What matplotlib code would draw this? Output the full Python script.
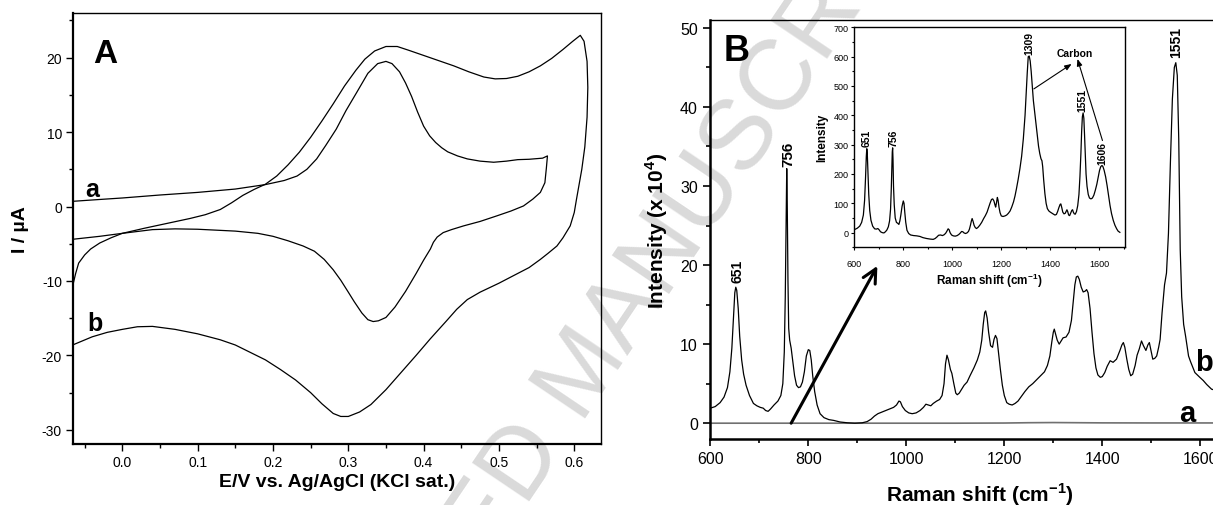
import matplotlib
matplotlib.use("Agg")
import matplotlib.pyplot as plt
from matplotlib.ticker import MultipleLocator

plt.rcParams['font.family'] = ['Liberation Sans', 'DejaVu Sans']
plt.rcParams['mathtext.fontset'] = 'custom'
plt.rcParams['mathtext.rm'] = 'Liberation Sans'
plt.rcParams['mathtext.bf'] = 'Liberation Sans:bold'
plt.rcParams['axes.unicode_minus'] = False

# ---------------- Panel A: cyclic voltammograms ----------------
cv_a_E = [-0.066, -0.03, 0.0, 0.05, 0.1, 0.15, 0.19, 0.215, 0.232, 0.245, 0.258, 0.27, 0.284,
          0.297, 0.311, 0.326, 0.339, 0.35, 0.358, 0.368, 0.376, 0.384, 0.392, 0.4, 0.408, 0.416,
          0.424, 0.432, 0.445, 0.458, 0.475, 0.493, 0.51, 0.525, 0.54, 0.558, 0.5644,
          0.563, 0.561, 0.555, 0.545, 0.5326, 0.516, 0.497, 0.475, 0.453, 0.437, 0.426, 0.418,
          0.413, 0.409, 0.4, 0.39, 0.376, 0.362, 0.35, 0.34, 0.333, 0.326, 0.318, 0.308, 0.3,
          0.29, 0.28, 0.268, 0.255, 0.24, 0.22, 0.2, 0.18, 0.15, 0.1, 0.07, 0.04, 0.0, -0.03, -0.066]
cv_a_I = [0.7, 0.95, 1.15, 1.55, 1.9, 2.35, 2.95, 3.5, 4.1, 5.0, 6.4, 8.2, 10.4,
          12.9, 15.3, 17.9, 19.2, 19.5, 19.2, 18.1, 16.6, 14.8, 12.7, 10.8, 9.5, 8.6,
          7.9, 7.35, 6.8, 6.4, 6.1, 5.95, 6.1, 6.3, 6.35, 6.5, 6.8,
          5.2, 3.2, 1.9, 1.0, 0.08, -0.6, -1.26, -2.0, -2.6, -3.1, -3.5, -4.1,
          -4.8, -5.7, -7.2, -9.0, -11.4, -13.5, -14.9, -15.35, -15.45, -15.2, -14.3, -12.8, -11.5,
          -9.9, -8.5, -7.1, -6.0, -5.3, -4.6, -4.0, -3.6, -3.3, -3.05, -3.0, -3.1, -3.6, -4.0, -4.4]

cv_b_E = [-0.066, -0.062, -0.058, -0.05, -0.042, -0.03, -0.015, 0.0, 0.03, 0.06, 0.09, 0.11,
          0.13, 0.145, 0.16, 0.175, 0.19, 0.205, 0.22, 0.235, 0.25, 0.265, 0.28, 0.295, 0.31,
          0.322, 0.335, 0.35, 0.365, 0.38, 0.4, 0.42, 0.44, 0.46, 0.48, 0.495, 0.51, 0.525,
          0.54, 0.555, 0.57, 0.585, 0.598, 0.608,
          0.613, 0.617, 0.618, 0.617, 0.614, 0.61, 0.603, 0.6, 0.5946, 0.585, 0.577, 0.565,
          0.555, 0.54, 0.519, 0.5, 0.475, 0.458, 0.444, 0.43, 0.4086, 0.39, 0.37, 0.35, 0.33,
          0.315, 0.3, 0.29, 0.28, 0.265, 0.25, 0.23, 0.21, 0.19, 0.17, 0.15, 0.13, 0.1, 0.07,
          0.04, 0.02, 0.0, -0.02, -0.04, -0.066]
cv_b_I = [-10.7, -9.0, -7.6, -6.5, -5.7, -4.9, -4.2, -3.6, -2.9, -2.25, -1.6, -1.1,
          -0.4, 0.5, 1.5, 2.3, 3.0, 4.1, 5.6, 7.3, 9.3, 11.5, 13.8, 16.2, 18.3,
          19.8, 20.9, 21.5, 21.5, 21.0, 20.3, 19.6, 18.9, 18.1, 17.4, 17.15, 17.2, 17.5,
          18.1, 18.9, 19.9, 21.1, 22.2, 23.0,
          22.2, 19.5, 16.0, 12.0, 8.0, 5.0, 1.0, -0.8, -2.6, -4.2, -5.3, -6.3,
          -7.1, -8.2, -9.3, -10.3, -11.5, -12.5, -13.8, -15.4, -17.8, -20.0, -22.3, -24.6, -26.6,
          -27.6, -28.2, -28.2, -27.8, -26.5, -25.0, -23.3, -21.9, -20.6, -19.6, -18.6, -17.9, -17.1, -16.5,
          -16.1, -16.15, -16.5, -16.9, -17.5, -18.6]

# ---------------- Panel B: Raman spectra ----------------
raman_b_x = [600, 610, 620, 628, 635, 640, 644, 647, 650, 652, 654, 657, 660, 664, 668, 673, 680, 688,
             695, 702, 708, 713, 718, 723, 730, 738, 744, 748, 751, 753, 755, 756, 757, 758.5, 760,
             762, 765, 768, 772, 776, 780, 784, 788, 792, 796, 800, 803, 806, 809, 813, 818, 824,
             832, 842, 852, 865, 880, 895, 910, 920, 928, 935, 942, 950, 958, 966, 974, 980, 985,
             988, 992, 998, 1005, 1012, 1020, 1028, 1035, 1040, 1045, 1050, 1055, 1062, 1068, 1073,
             1077, 1080, 1083, 1086, 1090, 1093, 1097, 1101, 1104, 1108, 1113, 1118, 1124, 1130,
             1138, 1145, 1150, 1154, 1157, 1160, 1162, 1165, 1168, 1172, 1176, 1179, 1182, 1185,
             1188, 1192, 1196, 1200, 1205, 1210, 1216, 1222, 1228, 1235, 1242, 1250, 1258, 1266,
             1274, 1282, 1288, 1293, 1297, 1300, 1302, 1305, 1308, 1312, 1316, 1320, 1326, 1332,
             1337, 1341, 1344, 1347, 1350, 1353, 1357, 1361, 1365, 1368, 1371, 1375, 1379, 1383,
             1387, 1391, 1396, 1400, 1405, 1410, 1416, 1422, 1429, 1436, 1440, 1443, 1446, 1450,
             1454, 1458, 1462, 1467, 1471, 1475.5, 1480, 1484, 1489, 1493, 1496, 1500, 1503, 1507,
             1511, 1515, 1518, 1522, 1527, 1531, 1535, 1539, 1543, 1547, 1550, 1553, 1556, 1559,
             1562, 1566, 1570, 1576, 1580, 1589, 1599, 1606, 1613, 1623, 1635, 1650]
raman_b_y = [1.9, 2.1, 2.6, 3.3, 4.5, 6.5, 9.5, 13, 16.5, 17.2, 16.8, 14.5, 11, 8, 6.2, 4.8, 3.5, 2.5,
             2.2, 2.0, 1.9, 1.6, 1.5, 1.8, 2.3, 2.8, 3.5, 5.0, 9, 16, 27, 32.2, 28, 18, 12,
             10.5, 9.5, 8, 6, 4.8, 4.5, 4.6, 5.2, 6.5, 8.5, 9.3, 9.2, 8, 6, 4, 2.3, 1.2,
             0.7, 0.45, 0.35, 0.15, 0.05, 0.0, 0.05, 0.2, 0.5, 0.9, 1.2, 1.4, 1.6, 1.8, 2.0, 2.3, 2.8,
             2.7, 2.1, 1.6, 1.3, 1.2, 1.3, 1.6, 2.0, 2.4, 2.3, 2.2, 2.5, 2.8, 3.0, 3.5,
             5, 7.5, 8.6, 8, 6.8, 6.3, 5, 3.8, 3.6, 3.8, 4.3, 4.8, 5.2, 6,
             7, 8, 9, 10.5, 12.5, 14, 14.2, 13.3, 11.5, 9.8, 9.6, 10.6, 11.1, 10.7,
             9, 6.8, 4.8, 3.5, 2.6, 2.4, 2.3, 2.5, 2.8, 3.4, 4.0, 4.6, 5.0, 5.5,
             6.0, 6.5, 7.3, 8.5, 10.3, 11.5, 11.9, 11.2, 10.5, 10.0, 10.4, 10.8, 10.9, 11.5,
             13, 15.5, 17.5, 18.5, 18.6, 18.2, 17.2, 16.6, 16.7, 16.9, 16.5, 14.5, 11.5, 8.8,
             7, 6.1, 5.8, 5.9, 6.4, 7.2, 7.9, 7.7, 8.1, 9.2, 9.9, 10.2, 9.6, 8.1,
             6.8, 6.0, 6.2, 7.3, 8.6, 9.4, 10.4, 9.8, 9.2, 9.9, 10.2, 9.0, 8.1, 8.2,
             8.5, 9.6, 10.6, 14.0, 17.5, 19.0, 24, 33, 41, 45, 45.6, 44, 36, 22,
             16, 12.5, 11.0, 8.5, 7.8, 6.4, 5.8, 5.4, 4.9, 4.3, 4.1, 4.0]

raman_a_x = [600, 700, 800, 900, 1000, 1100, 1200, 1250, 1300, 1350, 1400, 1500, 1600, 1700]
raman_a_y = [0.0, 0.0, 0.0, 0.0, 0.0, 0.0, 0.02, 0.06, 0.08, 0.06, 0.04, 0.03, 0.03, 0.03]

# Inset spectrum (carbon-containing sample)
inset_x = [600, 612, 622, 630, 637, 642, 646, 649, 651, 653, 656, 659, 663, 668, 675, 683, 690, 696,
           701, 707, 714, 721, 727, 733, 739, 744, 748, 751, 753, 755, 756.5, 758, 760, 763, 767,
           772, 777, 782, 786, 790, 795, 800, 803, 806, 810, 815, 822, 830, 842, 855, 868, 880,
           895, 910, 922, 930, 937, 944, 952, 960, 967, 973, 978, 983, 987, 991, 997, 1004, 1012,
           1020, 1027, 1033, 1038, 1043, 1048, 1054, 1060, 1066, 1070, 1074, 1078, 1081, 1085,
           1089, 1094, 1099, 1105, 1112, 1120, 1128, 1135, 1142, 1148, 1154, 1160, 1165, 1170,
           1174, 1177, 1180, 1184, 1187, 1191, 1195, 1200, 1207, 1215, 1222, 1229, 1236, 1243,
           1250, 1256, 1262, 1269, 1276, 1283, 1290, 1297, 1302, 1306, 1310, 1314, 1318, 1322,
           1326, 1331, 1337, 1342, 1347, 1352, 1357, 1362, 1366, 1369, 1373, 1378, 1383, 1388,
           1394, 1400, 1407, 1413, 1419, 1425, 1430, 1435, 1440, 1443, 1447, 1451, 1456, 1461,
           1465, 1468, 1471, 1475, 1479, 1484, 1488, 1491, 1494, 1498, 1502, 1507, 1512, 1517,
           1521, 1525, 1528, 1531, 1534, 1537, 1540, 1543, 1546, 1550, 1555, 1560, 1566, 1572,
           1578, 1584, 1590, 1596, 1601, 1606, 1611, 1615, 1620, 1626, 1632, 1638, 1644, 1650,
           1657, 1664, 1671, 1677, 1684]
inset_y = [10, 15, 22, 35, 60, 110, 190, 260, 286, 270, 200, 130, 75, 42, 22, 13, 12, 14,
           10, 3, 0, -1, 3, 9, 20, 40, 80, 150, 220, 275, 289, 250, 160, 95, 50,
           35, 32, 28, 40, 60, 90, 108, 100, 70, 35, 8, -3, -8, -10, -11, -13, -17,
           -20, -22, -23, -20, -15, -9, -8, -10, -7, -2, 5, 13, 10, 0, -8, -11, -12,
           -10, -6, -1, 4, 3, -1, -3, -1, 4, 12, 25, 40, 48, 38,
           25, 17, 14, 18, 25, 35, 48, 58, 70, 85, 100, 113, 115, 108,
           95, 87, 100, 120, 110, 85, 68, 57, 55, 57, 60, 66, 74, 88,
           105, 125, 150, 182, 218, 260, 320, 400, 480, 545, 600, 602, 585, 550,
           505, 450, 405, 370, 330, 295, 270, 252, 245, 225, 180, 133, 100, 82,
           74, 70, 66, 63, 60, 62, 72, 85, 96, 98, 85, 70, 64, 66,
           73, 78, 72, 60, 58, 68, 76, 78, 70, 64, 63, 72, 92, 130,
           190, 270, 345, 395, 408, 390, 330, 260, 200, 158, 130, 118, 115, 118,
           128, 145, 165, 190, 212, 225, 229, 225, 212, 190, 160, 125, 92, 65,
           42, 25, 13, 5, 1]

# Peak annotations
main_peaks = ['651', '756', '1551']
main_peak_x = [655, 758.5, 1550]
main_peak_y = [17.8, 32.5, 46.3]
main_peak_fs = [10, 11, 10]

inset_peaks = ['651', '756', '1309', '1551', '1606']
inset_peak_x = [651, 760, 1313, 1533, 1613]
inset_peak_y = [294, 294, 609, 416, 235]

# ---------------- Figure ----------------
W, H = 1213, 506
fig = plt.figure(figsize=(W / 100, H / 100), dpi=100)

def px_axes(l, t, r, b):
    return [l / W, 1 - b / H, (r - l) / W, (b - t) / H]

# watermark
fig.text(0.482, 0.262, 'ACCEPTED MANUSCRIPT', rotation=56, fontsize=72,
         color='#dadada', ha='center', va='center', zorder=-1)

# ---- Panel A ----
axA = fig.add_axes(px_axes(73, 14, 601, 445))
axA.set_facecolor('none')
axA.plot(cv_a_E, cv_a_I, color='black', lw=0.9)
axA.plot(cv_b_E, cv_b_I, color='black', lw=0.9)
axA.set_xlim(-0.0655, 0.6355)
axA.set_ylim(-31.9, 26.0)
axA.xaxis.set_major_locator(MultipleLocator(0.1))
axA.xaxis.set_minor_locator(MultipleLocator(0.05))
axA.yaxis.set_major_locator(MultipleLocator(10))
axA.yaxis.set_minor_locator(MultipleLocator(5))
axA.xaxis.set_major_formatter(matplotlib.ticker.FormatStrFormatter('%.1f'))
axA.tick_params(which='major', direction='out', length=5, width=1.0, labelsize=10, pad=3)
axA.tick_params(which='minor', direction='out', length=3, width=1.0)
axA.tick_params(top=False, right=False, which='both')
for s in axA.spines.values():
    s.set_linewidth(1.0)
axA.spines['bottom'].set_linewidth(1.6)
axA.spines['left'].set_linewidth(1.6)
axA.set_xlabel('E/V vs. Ag/AgCl (KCl sat.)', fontsize=14, fontweight='bold', labelpad=3)
axA.set_ylabel('I / µA', fontsize=14, fontweight='bold', labelpad=9)
axA.text(-0.023, 20.6, 'A', fontsize=24, fontweight='bold', ha='center', va='center')
axA.text(-0.040, 2.4, 'a', fontsize=18, fontweight='bold', ha='center', va='center')
axA.text(-0.036, -15.7, 'b', fontsize=18, fontweight='bold', ha='center', va='center')

# ---- Panel B ----
x_right_px = 710.3 + (1700 - 600) * 0.49
axB = fig.add_axes(px_axes(710.3, 21, x_right_px, 440))
axB.set_facecolor('none')
axB.plot(raman_a_x, raman_a_y, color='#707070', lw=1.2)
axB.plot(raman_b_x, raman_b_y, color='black', lw=0.9)
axB.set_xlim(600, 1700)
axB.set_ylim(-2, 51)
axB.xaxis.set_major_locator(MultipleLocator(200))
axB.xaxis.set_minor_locator(MultipleLocator(100))
axB.yaxis.set_major_locator(MultipleLocator(10))
axB.yaxis.set_minor_locator(MultipleLocator(5))
axB.tick_params(which='major', direction='out', length=5, width=1.2, labelsize=11.5, pad=4)
axB.tick_params(which='minor', direction='out', length=3, width=1.2)
axB.tick_params(top=False, right=False, which='both')
for s in axB.spines.values():
    s.set_linewidth(1.0)
axB.spines['bottom'].set_linewidth(1.8)
axB.spines['left'].set_linewidth(1.8)
axB.set_xlabel(r'Raman shift (cm$^{\mathbf{-1}}$)', fontsize=15, fontweight='bold', labelpad=10)
axB.set_ylabel(r'Intensity (x 10$^{\mathbf{4}}$)', fontsize=15, fontweight='bold', labelpad=7)
for lab, x, y, fs in zip(main_peaks, main_peak_x, main_peak_y, main_peak_fs):
    axB.text(x, y, lab, rotation=90, fontsize=fs, fontweight='bold', ha='center', va='bottom')
axB.text(654.5, 47.2, 'B', fontsize=26, fontweight='bold', ha='center', va='center')
axB.text(1608, 7.8, 'b', fontsize=21, fontweight='bold', ha='center', va='center')
axB.text(1574, 1.3, 'a', fontsize=21, fontweight='bold', ha='center', va='center')
arrow_tail = (765, 0.0)
arrow_head = (941, 19.9)
axB.annotate('', xy=arrow_head, xytext=arrow_tail,
             arrowprops=dict(arrowstyle='->, head_length=0.7, head_width=0.35',
                             lw=2.2, color='black', mutation_scale=14,
                             shrinkA=0, shrinkB=0))

# ---- Inset ----
axI = fig.add_axes(px_axes(854.3, 28.3, 1125, 248.3))
axI.set_facecolor('white')
axI.plot(inset_x, inset_y, color='black', lw=0.9)
axI.set_xlim(600, 1705)
axI.set_ylim(-50, 700)
axI.xaxis.set_major_locator(MultipleLocator(200))
axI.xaxis.set_minor_locator(MultipleLocator(100))
axI.yaxis.set_major_locator(MultipleLocator(100))
axI.yaxis.set_minor_locator(MultipleLocator(50))
axI.tick_params(which='major', direction='out', length=2.5, width=0.8, labelsize=6.5)
axI.tick_params(axis='x', which='major', pad=6)
axI.tick_params(axis='y', which='major', pad=1.5)
axI.tick_params(which='minor', direction='out', length=1.5, width=0.8)
axI.tick_params(top=False, right=False, which='both')
for s in axI.spines.values():
    s.set_linewidth(1.0)
axI.set_xlabel(r'Raman shift (cm$^{\mathbf{-1}}$)', fontsize=8.5, fontweight='bold', labelpad=2)
axI.set_ylabel('Intensity', fontsize=8.5, fontweight='bold', labelpad=4)
for lab, x, y in zip(inset_peaks, inset_peak_x, inset_peak_y):
    axI.text(x, y, lab, rotation=90, fontsize=7.5, fontweight='bold', ha='center', va='bottom')
axI.text(1501, 611, 'Carbon', fontsize=7.5, fontweight='bold', ha='center', va='center')
carbon_arrows = [((1333, 490), (1487, 575)), ((1613, 314), (1511, 592))]
for tail, head in carbon_arrows:
    axI.annotate('', xy=head, xytext=tail,
                 arrowprops=dict(arrowstyle='-|>, head_length=0.5, head_width=0.2',
                                 lw=0.8, color='black', mutation_scale=8,
                                 shrinkA=0, shrinkB=0))

fig.savefig('out.png', dpi=100)
